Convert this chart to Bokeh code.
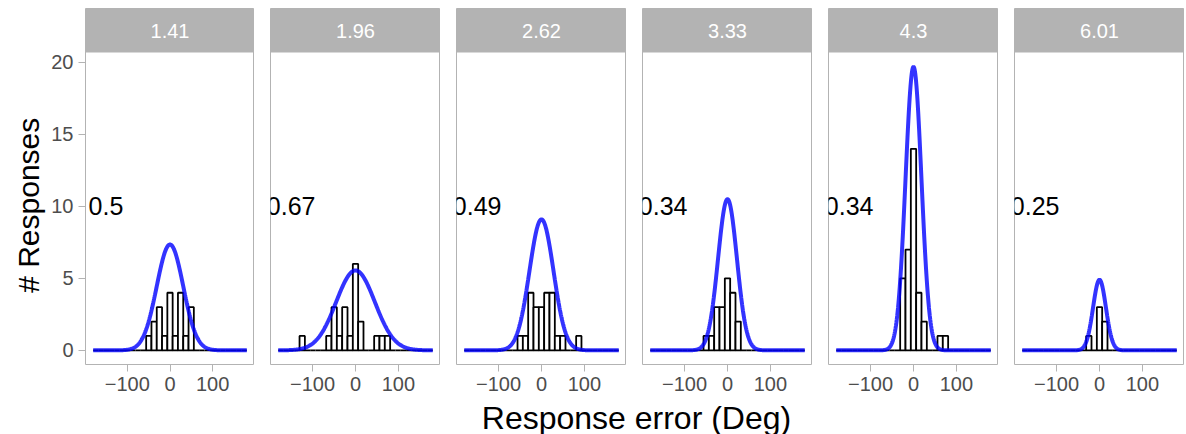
import numpy as np
from bokeh.plotting import figure
from bokeh.layouts import row, column
from bokeh.models import Range1d, FixedTicker, BoxAnnotation, Label, ColumnDataSource
from bokeh.embed import file_html
from bokeh.resources import INLINE

# ---- data ----
set_sizes = ["1.41", "1.96", "2.62", "3.33", "4.3", "6.01"]
precision_labels = ["0.5", "0.67", "0.49", "0.34", "0.34", "0.25"]

# histogram: 29 bins of 360/29 deg, centred on 0 (bin index -14 .. 14)
bin_index = [-14, -13, -12, -11, -10, -9, -8, -7, -6, -5, -4, -3, -2, -1, 0,
             1, 2, 3, 4, 5, 6, 7, 8, 9, 10, 11, 12, 13, 14]
bin_width = 360 / 29

counts_1_41 = [0, 0, 0, 0, 0, 0, 0, 0, 0, 0, 1, 2, 3, 1, 4, 1, 4, 1, 3, 0, 0, 0, 0, 0, 0, 0, 0, 0, 0]
counts_1_96 = [0, 0, 0, 0, 1, 0, 0, 0, 0, 1, 3, 1, 3, 1, 6, 2, 0, 0, 1, 1, 1, 0, 0, 0, 0, 0, 0, 0, 0]
counts_2_62 = [0, 0, 0, 0, 0, 0, 0, 0, 0, 0, 1, 1, 4, 3, 3, 4, 4, 1, 1, 0, 0, 1, 0, 0, 0, 0, 0, 0, 0]
counts_3_33 = [0, 0, 0, 0, 0, 0, 0, 0, 0, 0, 1, 1, 3, 3, 5, 4, 2, 0, 0, 0, 0, 0, 0, 0, 0, 0, 0, 0, 0]
counts_4_3 = [0, 0, 0, 0, 0, 0, 0, 0, 0, 0, 0, 0, 5, 7, 14, 4, 2, 0, 0, 1, 1, 0, 0, 0, 0, 0, 0, 0, 0]
counts_6_01 = [0, 0, 0, 0, 0, 0, 0, 0, 0, 0, 0, 0, 1, 0, 3, 2, 0, 0, 0, 0, 0, 0, 0, 0, 0, 0, 0, 0, 0]
all_counts = [counts_1_41, counts_1_96, counts_2_62, counts_3_33, counts_4_3, counts_6_01]

# fitted density curve (peak height in responses, spread in degrees)
curve_peak = [7.35, 5.55, 9.1, 10.5, 19.7, 4.9]
curve_sd = [31, 45, 28, 22, 18.5, 15]

y_ticks = [0, 5, 10, 15, 20]
x_ticks = [-100, 0, 100]

# ---- styling ----
FONT = "Liberation Sans"
GREY = "#b3b3b3"
Y_LO, Y_PANEL_TOP, Y_HI = -0.985, 20.685, 23.75
PANEL_H = 398
TITLE_H = 434 - PANEL_H
YTITLE_W = 48

# y-axis title in its own narrow column
ytitle = figure(width=YTITLE_W, height=PANEL_H, x_range=Range1d(0, YTITLE_W),
                y_range=Range1d(0, PANEL_H),
                output_backend="svg", toolbar_location=None, min_border=0,
                x_axis_location=None, y_axis_location=None)
ytitle.outline_line_color = None
ytitle.grid.visible = False
ytitle.add_layout(Label(x=28, y=PANEL_H - 220, text="# Responses", angle=np.pi / 2,
                        text_color="black", text_font=FONT, text_font_size="30px",
                        text_align="center", text_baseline="middle"))

panels = [ytitle]
for i in range(6):
    first = i == 0
    p = figure(width=84 - YTITLE_W + 170 if first else 186, height=PANEL_H,
               x_range=Range1d(-198, 198), y_range=Range1d(Y_LO, Y_HI),
               output_backend="svg", toolbar_location=None,
               min_border_left=84 - YTITLE_W if first else 16, min_border_right=0,
               min_border_top=8, min_border_bottom=PANEL_H - 8 - 356,
               y_axis_location="left" if first else None)
    p.grid.visible = False
    p.outline_line_color = GREY
    p.outline_line_width = 1
    p.background_fill_color = "white"

    # strip
    p.add_layout(BoxAnnotation(bottom=Y_PANEL_TOP, fill_color=GREY, fill_alpha=1,
                               line_color=None, level="underlay"))
    p.add_layout(Label(x=0, y=(Y_PANEL_TOP + Y_HI) / 2, text=set_sizes[i],
                       text_color="white", text_font=FONT, text_font_size="20px",
                       text_align="center", text_baseline="middle"))

    # histogram
    centers = np.array(bin_index) * bin_width
    src = ColumnDataSource(dict(left=centers - bin_width / 2, right=centers + bin_width / 2,
                                top=all_counts[i], bottom=[0] * len(centers)))
    p.quad(left="left", right="right", top="top", bottom="bottom", source=src,
           fill_color="white", line_color="black", line_width=1.8)

    # density curve
    xs = np.linspace(-180, 180, 361)
    ys = curve_peak[i] * np.exp(-0.5 * (xs / curve_sd[i]) ** 2)
    p.line(xs, ys, line_color="blue", line_alpha=0.8, line_width=4)

    # annotation
    p.add_layout(Label(x=-150, y=10, text=precision_labels[i], text_color="black",
                       text_font=FONT, text_font_size="25px",
                       text_align="center", text_baseline="middle"))

    # axes
    xa = p.xaxis[0]
    xa.ticker = FixedTicker(ticks=x_ticks)
    xa.axis_line_color = None
    xa.major_tick_line_color = GREY
    xa.major_tick_out = 7
    xa.major_tick_in = 0
    xa.minor_tick_line_color = None
    xa.major_label_text_color = "#4d4d4d"
    xa.major_label_text_font = FONT
    xa.major_label_text_font_size = "20px"
    xa.major_label_standoff = 5
    if first:
        ya = p.yaxis[0]
        ya.ticker = FixedTicker(ticks=y_ticks)
        ya.axis_line_color = None
        ya.major_tick_line_color = GREY
        ya.major_tick_out = 7
        ya.major_tick_in = 0
        ya.minor_tick_line_color = None
        ya.major_label_text_color = "#4d4d4d"
        ya.major_label_text_font = FONT
        ya.major_label_text_font_size = "20px"
        ya.major_label_standoff = 5
    panels.append(p)

# shared x-axis title
t = figure(width=1186, height=TITLE_H, x_range=Range1d(0, 1186), y_range=Range1d(0, TITLE_H),
           output_backend="svg", toolbar_location=None, min_border=0,
           x_axis_location=None, y_axis_location=None)
t.outline_line_color = None
t.grid.visible = False
t.add_layout(Label(x=636, y=17, text="Response error (Deg)", text_color="black",
                   text_font=FONT, text_font_size="32px",
                   text_align="center", text_baseline="middle"))

layout = column(row(*panels), t)
open("out.html", "w").write(file_html(layout, INLINE))
